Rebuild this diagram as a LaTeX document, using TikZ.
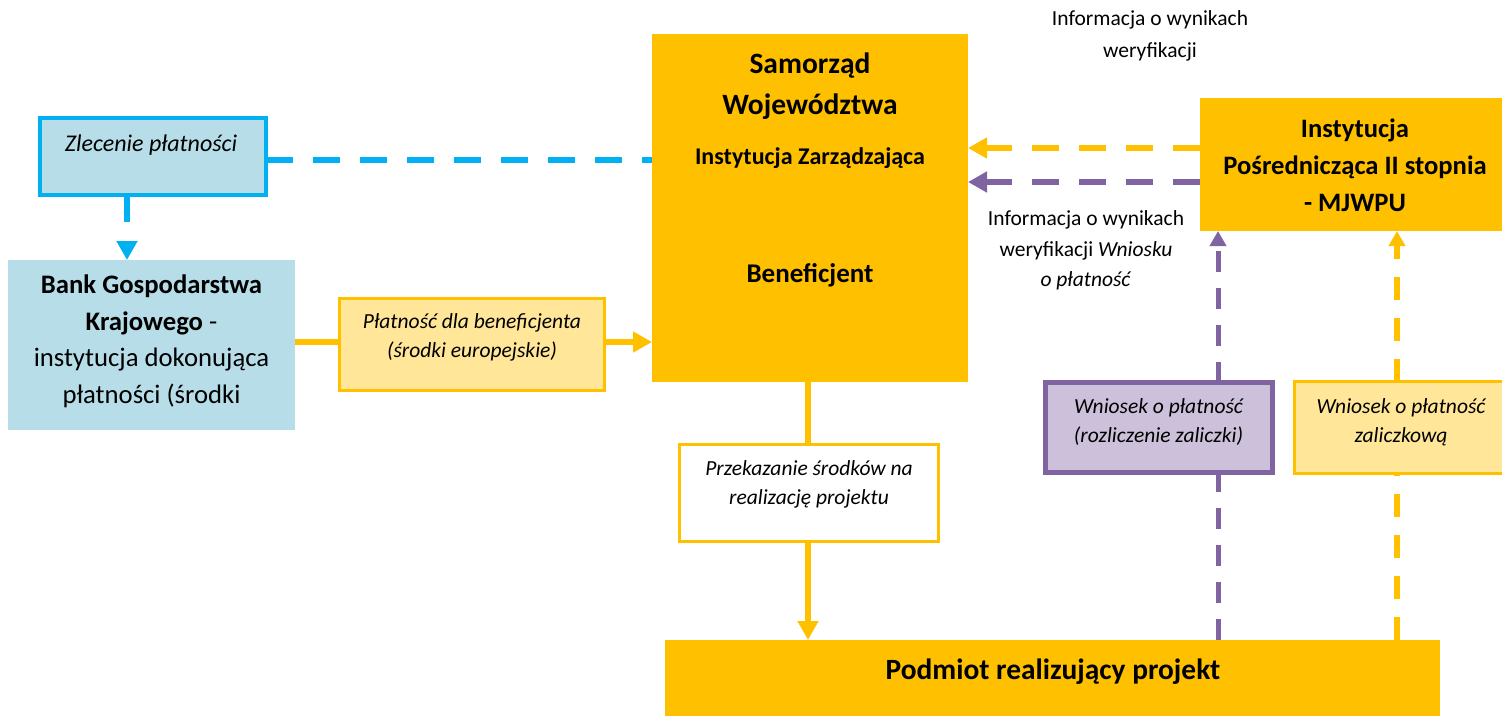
\documentclass[tikz,border=0pt]{standalone}
\usepackage{fontspec}
\setmainfont{Carlito}
\usetikzlibrary{arrows.meta,calc}
\definecolor{orng}{HTML}{FFC000}
\definecolor{ltblue}{HTML}{B7DEE8}
\definecolor{cyanb}{HTML}{00B0F0}
\definecolor{ltyel}{HTML}{FFE699}
\definecolor{purp}{HTML}{8064A2}
\definecolor{lilac}{HTML}{CCC0DA}
\begin{document}
\begin{tikzpicture}[x=1pt,y=-1pt,
  box/.style={rectangle, inner sep=0pt, outer sep=0pt},
  txt/.style={inner sep=0pt, align=center, text=black},
  ital/.style={font=\itshape\fontsize{21.5}{29}\selectfont},
  solidcon/.style={draw=orng, line width=6pt},
  dashcon/.style={line width=6.5pt, dash pattern=on 27pt off 20pt},
  vdash/.style={line width=5pt, dash pattern=on 21pt off 16pt},
  vdashb/.style={line width=5.4pt, dash pattern=on 23pt off 18pt},
  tipL/.style={-{Triangle[length=19pt,width=20pt]}},
  tipS/.style={-{Triangle[length=15pt,width=16pt]}}
]
\useasboundingbox (0,0) rectangle (1502,716);
\clip (0,0) rectangle (1502,716);
% boxes
\node[box, fill=orng, minimum width=316pt, minimum height=348pt] (sw) at (810,208) {};
\node[box, draw=cyanb, line width=4pt, fill=ltblue, minimum width=226pt, minimum height=77pt] (zl) at (153,156.5) {};
\node[box, fill=ltblue, minimum width=287pt, minimum height=170pt] (bk) at (151.5,345) {};
\node[box, draw=orng, line width=3pt, fill=ltyel, minimum width=265pt, minimum height=92pt] (pl) at (472,344.5) {};
\node[box, draw=orng, line width=3pt, fill=white, minimum width=259pt, minimum height=97pt] (pr) at (809,493) {};
\node[box, fill=orng, minimum width=775pt, minimum height=76pt] (pd) at (1052.5,678) {};
\node[box, fill=orng, minimum width=310pt, minimum height=133pt] (ip) at (1355,164.5) {};
\node[box, draw=purp, line width=5pt, fill=lilac, minimum width=227pt, minimum height=90pt] (wr) at (1159,427.5) {};
\node[box, draw=orng, line width=3pt, fill=ltyel, minimum width=213pt, minimum height=92pt] (wz) at (1401,427.5) {};
% helper coordinates
\coordinate (y160) at (0,160);
\coordinate (y342) at (0,342);
\coordinate (y148) at (0,148);
\coordinate (y182) at (0,182);
\coordinate (x127) at (127,0);
\coordinate (x808) at (808,0);
\coordinate (x1218) at (1218,0);
\coordinate (x1397) at (1397,0);
% connectors
\draw[dashcon, draw=cyanb] (zl.east |- y160) -- (sw.west |- y160);
\draw[dashcon, draw=cyanb, tipL] (zl.south -| x127) -- (bk.north -| x127);
\draw[solidcon] (bk.east |- y342) -- (pl.west |- y342);
\draw[solidcon, tipL] (pl.east |- y342) -- (sw.west |- y342);
\draw[solidcon] (sw.south -| x808) -- (pr.north -| x808);
\draw[solidcon, tipL] (pr.south -| x808) -- (pd.north -| x808);
\draw[dashcon, draw=orng, tipL] (ip.west |- y148) -- (sw.east |- y148);
\draw[dashcon, draw=purp, tipL] (ip.west |- y182) -- (sw.east |- y182);
\draw[vdash, draw=purp] (pd.north -| x1218) -- (wr.south -| x1218);
\draw[vdash, draw=purp, tipS] (wr.north -| x1218) -- (ip.south -| x1218);
\draw[vdashb, draw=orng] (pd.north -| x1397) -- (wz.south -| x1397);
\draw[vdashb, draw=orng, tipS] (wz.north -| x1397) -- (ip.south -| x1397);
% texts
\node[txt, font=\bfseries\fontsize{29.5}{41}\selectfont] (t1) at (810,86.5) {Samorząd\\Województwa};
\node[txt, font=\bfseries\fontsize{24}{28}\selectfont] (t2) at (810,158) {Instytucja Zarządzająca};
\node[txt, font=\bfseries\fontsize{27}{30}\selectfont] (t3) at (810,275) {Beneficjent};
\node[txt, font=\itshape\fontsize{24}{29}\selectfont] (t4) at (151,145) {Zlecenie płatności};
\node[txt, font=\fontsize{26.7}{36.5}\selectfont] (t5) at (151.5,341.5) {\textbf{Bank Gospodarstwa}\\\textbf{Krajowego} -\\instytucja dokonująca\\płatności (środki};
\node[txt, ital] (t6) at (472,337.5) {Płatność dla beneficjenta\\(środki europejskie)};
\node[txt, ital] (t7) at (809,484.5) {Przekazanie środków na\\realizację projektu};
\node[txt, font=\bfseries\fontsize{26.6}{37}\selectfont] (t8) at (1355,165) {Instytucja\\Pośrednicząca II stopnia\\- MJWPU};
\node[txt, ital] (t9) at (1158.5,422.5) {Wniosek o płatność\\(rozliczenie zaliczki)};
\node[txt, ital] (t10) at (1401,422.5) {Wniosek o płatność\\zaliczkową};
\node[txt, font=\bfseries\fontsize{29.4}{34}\selectfont] (t11) at (1053,672) {Podmiot realizujący projekt};
\node[txt, font=\fontsize{21.5}{32}\selectfont] (t12) at (1150,36) {Informacja o wynikach\\weryfikacji};
\node[txt, font=\fontsize{21.5}{30.5}\selectfont] (t13) at (1086,250.5) {Informacja o wynikach\\weryfikacji \textit{Wniosku}\\\textit{o płatność}};
\end{tikzpicture}
\end{document}
